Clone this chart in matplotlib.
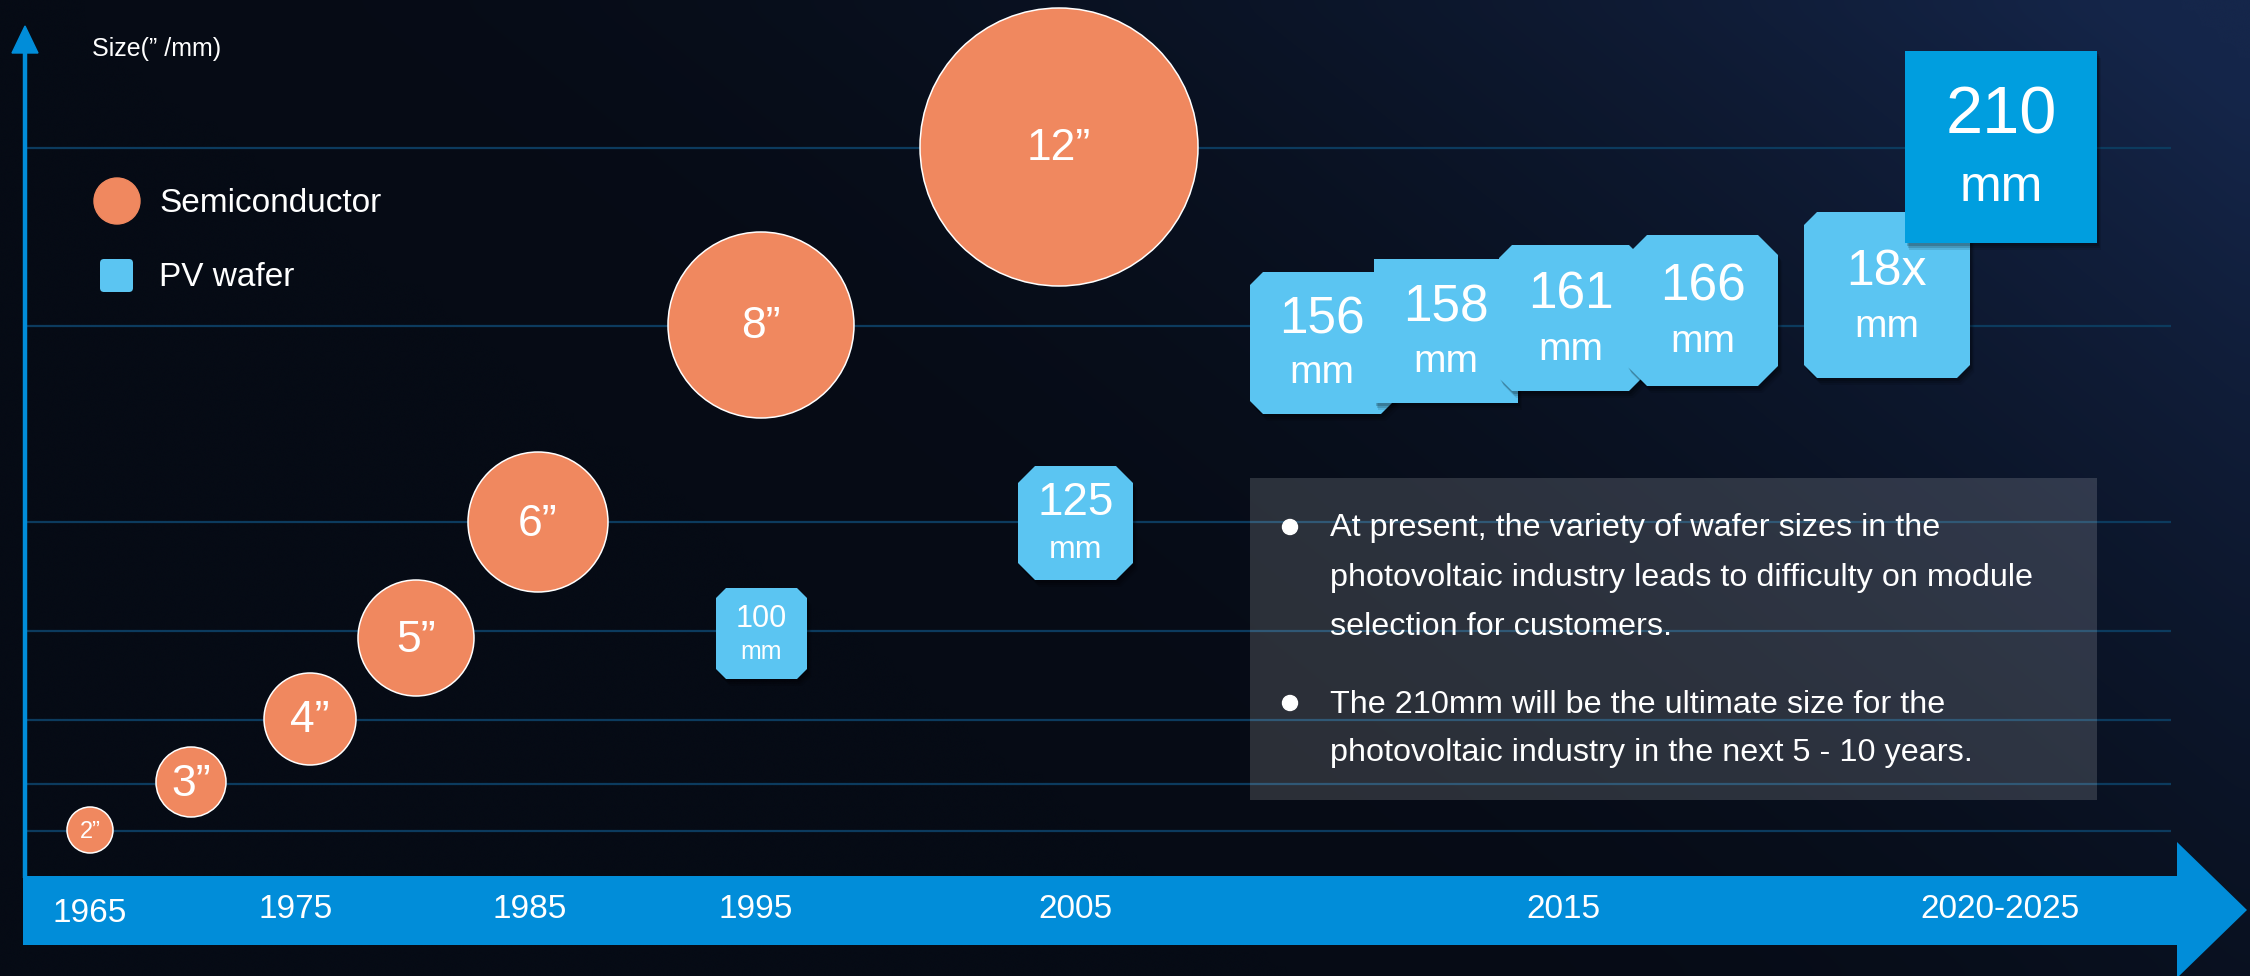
import numpy as np
import matplotlib
matplotlib.use("Agg")
import matplotlib.pyplot as plt
from matplotlib.patches import Circle, Polygon, Rectangle, FancyBboxPatch
from matplotlib.colors import to_rgb

# ---------------- data ----------------
semi_labels = ['2”', '3”', '4”', '5”', '6”', '8”', '12”']
semi_x = [90, 191, 310, 416, 538, 761, 1059]
semi_y = [830, 782, 719, 638, 522, 325, 147]
semi_r = [23, 35, 46, 58, 70, 93, 139]
semi_fs = [17, 32, 32, 32, 32, 32, 32]

pv_labels = ['100', '125', '156', '158', '161', '166', '18x', '210']
pv_left = [716, 1018, 1250, 1374, 1499, 1627, 1804, 1905]
pv_top = [588, 466, 272, 259, 245, 235, 212, 51]
pv_right = [807, 1133, 1394, 1518, 1642, 1778, 1970, 2097]
pv_bottom = [679, 580, 414, 403, 391, 386, 378, 243]
pv_cut = [10, 17, 13, 0, 13, 20, 13, 0]
pv_num_y = [619, 503, 320, 308, 295, 287, 272, 117]
pv_mm_y = [652, 550, 373, 362, 350, 342, 327, 188]
pv_num_fs = [22, 33, 37, 37, 37, 37, 36, 48]
pv_mm_fs = [18, 23, 28, 28, 28, 28, 28, 36]

year_labels = ['1965', '1975', '1985', '1995', '2005', '2015', '2020-2025']
year_x = [90, 296, 530, 756, 1075, 1563, 2000]
year_y = [913, 909, 909, 909, 909, 909, 909]

grid_y = [148, 326, 522, 631, 720, 784, 831]

note_lines = ["At present, the variety of wafer sizes in the",
              "photovoltaic industry leads to difficulty on module",
              "selection for customers.",
              "The 210mm will be the ultimate size for the",
              "photovoltaic industry in the next 5 - 10 years."]
note_y = [528, 578, 627, 705, 753]
bullet_y = [527, 703]

# ---------------- styling ----------------
FONT = ['Liberation Sans', 'DejaVu Sans']
W, H = 2250, 976
ORANGE = '#F0885F'
LIGHTBLUE = '#5BC5F2'
DEEPBLUE = '#009EDF'
BARBLUE = '#018DD9'
GRID = '#0c3b5e'

fig = plt.figure(figsize=(22.5, 9.76), dpi=100)
ax = fig.add_axes([0, 0, 1, 1])
ax.set_xlim(0, W)
ax.set_ylim(H, 0)
ax.axis('off')

# background gradient
ny, nx = 60, 120
yy, xx = np.mgrid[0:1:ny * 1j, 0:1:nx * 1j]
c_dark = np.array(to_rgb('#060b15'))
c_light = np.array(to_rgb('#15264a'))
t = np.clip(1.1 * xx - 0.6 * yy - 0.05, 0, 1) ** 1.9
bg = c_dark[None, None, :] * (1 - t[..., None]) + c_light[None, None, :] * t[..., None]
ax.imshow(bg, extent=[0, W, H, 0], aspect='auto', zorder=0, interpolation='bicubic')

# gridlines
for gy in grid_y:
    ax.plot([25, 2171], [gy, gy], color=GRID, lw=1.6, zorder=1, solid_capstyle='butt')

# vertical axis with arrow
ax.plot([25, 25], [50, 878], color=BARBLUE, lw=3.2, zorder=2, solid_capstyle='butt')
ax.add_patch(Polygon([[12, 53], [38, 53], [25, 26]], closed=True, color=BARBLUE, zorder=2))
ax.text(92, 49, 'Size(” /mm)', color='white', fontsize=18, family=FONT, va='center', ha='left', zorder=3)

# bottom timeline arrow
ax.add_patch(Rectangle((23, 876), 2178 - 23, 945 - 876, color=BARBLUE, zorder=2, lw=0))
ax.add_patch(Polygon([[2177, 842], [2247, 910], [2177, 978]], closed=True, color=BARBLUE, zorder=2, lw=0))
for lab, x, y in zip(year_labels, year_x, year_y):
    ax.text(x, y, lab, color='white', fontsize=24, family=FONT, ha='center', va='center', zorder=3)

# legend
ax.add_patch(Circle((117, 201), 23, color=ORANGE, zorder=3))
ax.text(159, 204, 'Semiconductor', color='white', fontsize=24, family=FONT, va='center', ha='left', zorder=3)
ax.add_patch(FancyBboxPatch((100, 259), 33, 33, boxstyle='round,pad=0,rounding_size=4',
                            color=LIGHTBLUE, zorder=3, lw=0))
ax.text(159, 278, 'PV wafer', color='white', fontsize=24, family=FONT, va='center', ha='left', zorder=3)

# note box
ax.add_patch(Rectangle((1250, 478), 2097 - 1250, 800 - 478, facecolor='#ffffff', alpha=0.15, lw=0, zorder=2))
for ln, y in zip(note_lines, note_y):
    ax.text(1330, y, ln, color='white', fontsize=23.3, family=FONT, va='center', ha='left', zorder=3)
for by in bullet_y:
    ax.add_patch(Circle((1290, by), 7.5, color='white', zorder=3))

# semiconductor circles
for lab, x, y, r, fs in zip(semi_labels, semi_x, semi_y, semi_r, semi_fs):
    ax.add_patch(Circle((x, y), r, facecolor=ORANGE, edgecolor='white', lw=1.1, zorder=4))
    ax.text(x, y + 2, lab, color='white', fontsize=fs, family=FONT, ha='center', va='center', zorder=5)


def chamfer_poly(x0, y0, x1, y1, c):
    if c <= 0:
        return [[x0, y0], [x1, y0], [x1, y1], [x0, y1]]
    return [[x0 + c, y0], [x1 - c, y0], [x1, y0 + c], [x1, y1 - c],
            [x1 - c, y1], [x0 + c, y1], [x0, y1 - c], [x0, y0 + c]]


# PV wafer boxes
for i, lab in enumerate(pv_labels):
    x0, y0, x1, y1, c = pv_left[i], pv_top[i], pv_right[i], pv_bottom[i], pv_cut[i]
    z = 6 + 2 * i
    # soft drop shadow
    for k, a in zip([7, 5, 3], [0.10, 0.14, 0.18]):
        sp = np.array(chamfer_poly(x0, y0, x1, y1, c), dtype=float) + np.array([k * 0.6, k])
        ax.add_patch(Polygon(sp, closed=True, facecolor='black', alpha=a, lw=0, zorder=z - 0.5))
    col = DEEPBLUE if lab == '210' else LIGHTBLUE
    ax.add_patch(Polygon(chamfer_poly(x0, y0, x1, y1, c), closed=True, facecolor=col, lw=0, zorder=z))
    cx = (x0 + x1) / 2
    ax.text(cx, pv_num_y[i], lab, color='white', fontsize=pv_num_fs[i], family=FONT,
            ha='center', va='center', zorder=z + 0.5)
    ax.text(cx, pv_mm_y[i], 'mm', color='white', fontsize=pv_mm_fs[i], family=FONT,
            ha='center', va='center', zorder=z + 0.5)

fig.savefig('out.png', dpi=100, facecolor='#060b15')
